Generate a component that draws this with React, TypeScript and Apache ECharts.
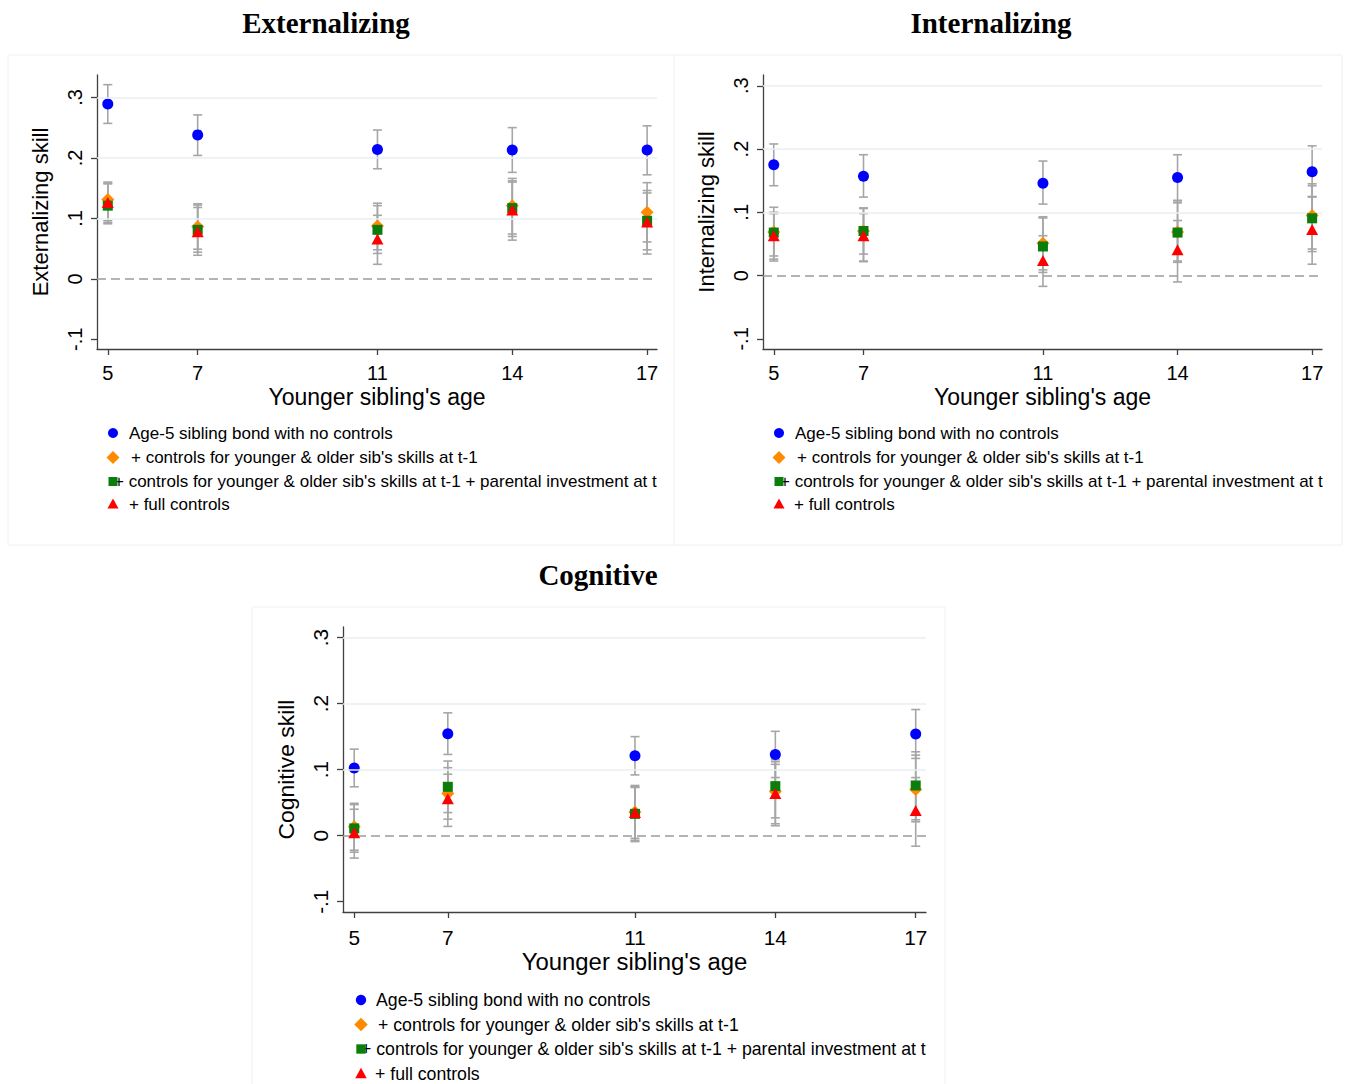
import React, { useEffect, useRef } from "react";
import * as echarts from "echarts";

// ---------- data ----------
const AGES = [5, 7, 11, 14, 17];
const Y_TICKS = [-0.1, 0, 0.1, 0.2, 0.3];
const GRID_LINES = [0.1, 0.2, 0.3];
const X_TITLE = "Younger sibling's age";

const LABELS = [
  "Age-5 sibling bond with no controls",
  "+ controls for younger & older sib's skills at t-1",
  "+ controls for younger & older sib's skills at t-1 + parental investment at t",
  "+ full controls",
];

// Externalizing
const EXT_NONE = [0.289, 0.238, 0.214, 0.213, 0.213];
const EXT_NONE_LO = [0.257, 0.204, 0.182, 0.176, 0.172];
const EXT_NONE_HI = [0.321, 0.271, 0.246, 0.25, 0.253];
const EXT_SKILL = [0.131, 0.086, 0.0875, 0.121, 0.11];
const EXT_SKILL_LO = [0.096, 0.049, 0.048, 0.074, 0.061];
const EXT_SKILL_HI = [0.16, 0.124, 0.125, 0.166, 0.159];
const EXT_INV = [0.121, 0.081, 0.081, 0.117, 0.096];
const EXT_INV_LO = [0.093, 0.044, 0.042, 0.07, 0.048];
const EXT_INV_HI = [0.158, 0.122, 0.121, 0.162, 0.146];
const EXT_FULL = [0.126, 0.078, 0.066, 0.114, 0.094];
const EXT_FULL_LO = [0.091, 0.039, 0.024, 0.064, 0.041];
const EXT_FULL_HI = [0.157, 0.118, 0.105, 0.16, 0.142];

// Internalizing
const INT_NONE = [0.175, 0.157, 0.146, 0.155, 0.164];
const INT_NONE_LO = [0.142, 0.124, 0.113, 0.119, 0.124];
const INT_NONE_HI = [0.208, 0.191, 0.181, 0.191, 0.205];
const INT_SKILL = [0.069, 0.0705, 0.051, 0.069, 0.095];
const INT_SKILL_LO = [0.031, 0.034, 0.009, 0.023, 0.042];
const INT_SKILL_HI = [0.108, 0.107, 0.093, 0.118, 0.145];
const INT_INV = [0.068, 0.0705, 0.046, 0.068, 0.0905];
const INT_INV_LO = [0.026, 0.023, 0.005, 0.021, 0.038];
const INT_INV_HI = [0.1, 0.106, 0.091, 0.115, 0.142];
const INT_FULL = [0.063, 0.063, 0.024, 0.041, 0.073];
const INT_FULL_LO = [0.023, 0.022, -0.017, -0.01, 0.018];
const INT_FULL_HI = [0.098, 0.098, 0.063, 0.087, 0.125];

// Cognitive
const COG_NONE = [0.1025, 0.1545, 0.121, 0.123, 0.154];
const COG_NONE_LO = [0.074, 0.123, 0.092, 0.088, 0.117];
const COG_NONE_HI = [0.131, 0.186, 0.15, 0.158, 0.191];
const COG_SKILL = [0.0136, 0.064, 0.036, 0.067, 0.07];
const COG_SKILL_LO = [-0.022, 0.025, -0.004, 0.018, 0.021];
const COG_SKILL_HI = [0.049, 0.103, 0.076, 0.112, 0.122];
const COG_INV = [0.011, 0.074, 0.033, 0.075, 0.076];
const COG_INV_LO = [-0.025, 0.035, -0.007, 0.027, 0.024];
const COG_INV_HI = [0.047, 0.113, 0.074, 0.115, 0.127];
const COG_FULL = [0.0045, 0.056, 0.035, 0.064, 0.038];
const COG_FULL_LO = [-0.034, 0.014, -0.009, 0.015, -0.016];
const COG_FULL_HI = [0.04, 0.093, 0.073, 0.108, 0.088];

// ---------- styling ----------
const SANS = "'Liberation Sans', Arial, Helvetica, sans-serif";
const SERIF = "'Liberation Serif', 'Times New Roman', serif";
const COLORS = ["#0000ff", "#ff8a00", "#0a7d0a", "#ff0000"];
const SYMBOLS = ["circle", "diamond", "rect", "triangle"];
const SIZES: any[] = [11, 13, 10, [12, 11]];
const CI_COLOR = "#a6a6a6";
const AXIS_COLOR = "#404040";

const PANELS = [
  {
    title: "Externalizing",
    yName: "Externalizing skill",
    titleX: 326,
    titleY: 23,
    fs: 1,
    grid: { left: 97, top: 75, width: 560, height: 274 },
    yMin: -0.116,
    yMax: 0.337,
    box: [8, 55, 667, 490],
    legend: { mx: 113, tx: [129, 131, 114, 129], rows: [433, 457.5, 481.5, 504] },
    series: [
      [EXT_NONE, EXT_NONE_LO, EXT_NONE_HI],
      [EXT_SKILL, EXT_SKILL_LO, EXT_SKILL_HI],
      [EXT_INV, EXT_INV_LO, EXT_INV_HI],
      [EXT_FULL, EXT_FULL_LO, EXT_FULL_HI],
    ],
  },
  {
    title: "Internalizing",
    yName: "Internalizing skill",
    titleX: 991,
    titleY: 23,
    fs: 1,
    grid: { left: 763, top: 75, width: 559, height: 274 },
    yMin: -0.116,
    yMax: 0.317,
    box: [674, 55, 668, 490],
    legend: { mx: 779, tx: [795, 797, 780, 794], rows: [433, 457.5, 481.5, 504] },
    series: [
      [INT_NONE, INT_NONE_LO, INT_NONE_HI],
      [INT_SKILL, INT_SKILL_LO, INT_SKILL_HI],
      [INT_INV, INT_INV_LO, INT_INV_HI],
      [INT_FULL, INT_FULL_LO, INT_FULL_HI],
    ],
  },
  {
    title: "Cognitive",
    yName: "Cognitive skill",
    titleX: 598,
    titleY: 575,
    fs: 1.04,
    grid: { left: 343, top: 627, width: 583, height: 285 },
    yMin: -0.1156,
    yMax: 0.316,
    box: [252, 607, 693, 480],
    legend: { mx: 361, tx: [376, 378, 361, 375], rows: [1000, 1024.5, 1049, 1073.5] },
    series: [
      [COG_NONE, COG_NONE_LO, COG_NONE_HI],
      [COG_SKILL, COG_SKILL_LO, COG_SKILL_HI],
      [COG_INV, COG_INV_LO, COG_INV_HI],
      [COG_FULL, COG_FULL_LO, COG_FULL_HI],
    ],
  },
];

const fmtY = (v: number) => {
  if (Math.abs(v) < 1e-9) return "0";
  return (v < 0 ? "-" : "") + "." + Math.round(Math.abs(v) * 10);
};

function legendGraphics(p: any) {
  const els: any[] = [];
  const { mx, tx, rows } = p.legend;
  const f = p.fs;
  LABELS.forEach((lab, k) => {
    els.push({
      type: "text",
      x: tx[k],
      y: rows[k],
      z: 10,
      style: {
        text: lab,
        fill: "#000",
        font: `${(17 * f).toFixed(1)}px ${SANS}`,
        textAlign: "left",
        textVerticalAlign: "middle",
      },
    });
  });
  els.push({ type: "circle", z: 11, shape: { cx: mx, cy: rows[0], r: 5 * f }, style: { fill: COLORS[0] } });
  const d = 6.5 * f;
  els.push({
    type: "polygon",
    z: 11,
    shape: { points: [[mx, rows[1] - d], [mx + d, rows[1]], [mx, rows[1] + d], [mx - d, rows[1]]] },
    style: { fill: COLORS[1] },
  });
  const s = 4.5 * f;
  els.push({ type: "rect", z: 11, shape: { x: mx - s, y: rows[2] - s, width: 2 * s, height: 2 * s }, style: { fill: COLORS[2] } });
  const t = 5.5 * f;
  els.push({
    type: "polygon",
    z: 11,
    shape: { points: [[mx, rows[3] - t], [mx + t, rows[3] + 4.5 * f], [mx - t, rows[3] + 4.5 * f]] },
    style: { fill: COLORS[3] },
  });
  return els;
}

function buildOption() {
  const grid: any[] = [];
  const xAxis: any[] = [];
  const yAxis: any[] = [];
  const series: any[] = [];
  const graphic: any[] = [];

  PANELS.forEach((p, i) => {
    const f = p.fs;
    graphic.push({
      type: "rect",
      z: -10,
      shape: { x: p.box[0], y: p.box[1], width: p.box[2], height: p.box[3] },
      style: { fill: "#ffffff", stroke: "#f0f0f0", lineWidth: 1 },
    });
    graphic.push({
      type: "text",
      x: p.titleX,
      y: p.titleY,
      style: {
        text: p.title,
        fill: "#000",
        font: `bold 29px ${SERIF}`,
        textAlign: "center",
        textVerticalAlign: "middle",
      },
    });
    graphic.push(...legendGraphics(p));

    grid.push({ ...p.grid, containLabel: false });
    xAxis.push({
      gridIndex: i,
      type: "value",
      min: 4.76,
      max: 17.22,
      axisLine: { show: true, onZero: false, lineStyle: { color: AXIS_COLOR, width: 1.3 } },
      axisTick: { show: true, customValues: AGES, length: 6, lineStyle: { color: AXIS_COLOR, width: 1.3 } },
      axisLabel: { customValues: AGES, fontSize: 20 * f, fontFamily: SANS, color: "#000", margin: 14 * f },
      splitLine: { show: false },
      name: X_TITLE,
      nameLocation: "middle",
      nameGap: 36 * f,
      nameTextStyle: { fontSize: 23 * f, fontFamily: SANS, color: "#000" },
    });
    yAxis.push({
      gridIndex: i,
      type: "value",
      min: p.yMin,
      max: p.yMax,
      axisLine: { show: true, onZero: false, lineStyle: { color: AXIS_COLOR, width: 1.3 } },
      axisTick: { show: true, customValues: Y_TICKS, length: 6, lineStyle: { color: AXIS_COLOR, width: 1.3 } },
      axisLabel: {
        customValues: Y_TICKS,
        formatter: fmtY,
        rotate: 90,
        fontSize: 20 * f,
        fontFamily: SANS,
        color: "#000",
        margin: 12,
      },
      splitLine: { show: false },
      name: p.yName,
      nameLocation: "middle",
      nameRotate: 90,
      nameGap: 46,
      nameTextStyle: { fontSize: 22 * f, fontFamily: SANS, color: "#000" },
    });

    series.push({
      type: "line",
      name: "ref-" + i,
      xAxisIndex: i,
      yAxisIndex: i,
      data: [],
      z: 1,
      silent: true,
      markLine: {
        silent: true,
        symbol: ["none", "none"],
        label: { show: false },
        animation: false,
        data: [
          ...GRID_LINES.map((g) => ({ yAxis: g, lineStyle: { color: "#e8f0f3", type: "solid", width: 1.5 } })),
          { yAxis: 0, lineStyle: { color: "#9c9c9c", type: [9, 5], width: 1.5 } },
        ],
      },
    });

    const ciData: any[] = [];
    p.series.forEach((s) => {
      AGES.forEach((a, j) => ciData.push([a, s[1][j], s[2][j]]));
    });
    series.push({
      type: "custom",
      name: "ci-" + i,
      xAxisIndex: i,
      yAxisIndex: i,
      z: 3,
      silent: true,
      encode: { x: 0, y: [1, 2] },
      data: ciData,
      renderItem: (params: any, api: any) => {
        const x = api.value(0);
        const lo = api.coord([x, api.value(1)]);
        const hi = api.coord([x, api.value(2)]);
        const w = 4.5;
        const st = { stroke: CI_COLOR, lineWidth: 1.6 };
        return {
          type: "group",
          children: [
            { type: "line", shape: { x1: lo[0], y1: lo[1], x2: hi[0], y2: hi[1] }, style: st },
            { type: "line", shape: { x1: lo[0] - w, y1: lo[1], x2: lo[0] + w, y2: lo[1] }, style: st },
            { type: "line", shape: { x1: hi[0] - w, y1: hi[1], x2: hi[0] + w, y2: hi[1] }, style: st },
          ],
        };
      },
    });

    p.series.forEach((s, k) => {
      series.push({
        type: "scatter",
        name: LABELS[k],
        xAxisIndex: i,
        yAxisIndex: i,
        z: 4 + k,
        symbol: SYMBOLS[k],
        symbolSize: SIZES[k],
        itemStyle: { color: COLORS[k], opacity: 1 },
        data: AGES.map((a, j) => [a, s[0][j]]),
      });
    });
  });

  return {
    animation: false,
    backgroundColor: "#ffffff",
    grid,
    xAxis,
    yAxis,
    series,
    graphic,
  };
}

export default function App() {
  const ref = useRef<HTMLDivElement>(null);
  useEffect(() => {
    if (!ref.current) return;
    const chart = echarts.init(ref.current, undefined, { renderer: "svg" });
    chart.setOption(buildOption() as any);
    return () => chart.dispose();
  }, []);
  return (
    <div
      ref={ref}
      style={{ position: "absolute", left: 0, top: 0, width: 1348, height: 1084, background: "#fff" }}
    />
  );
}
